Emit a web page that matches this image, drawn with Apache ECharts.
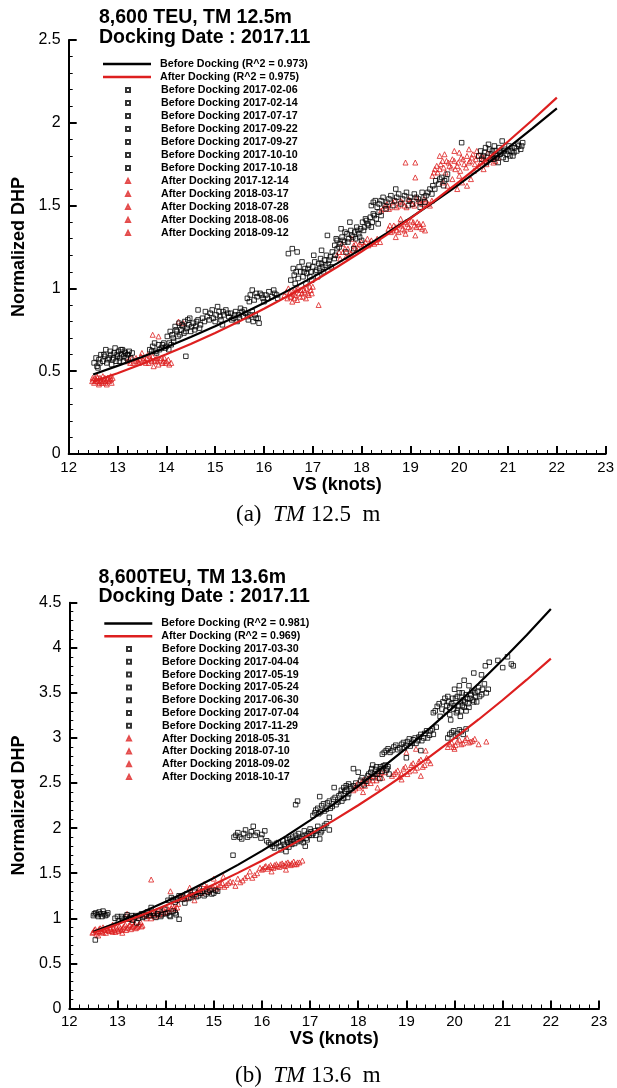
<!DOCTYPE html>
<html><head><meta charset="utf-8">
<script src="https://cdn.jsdelivr.net/npm/echarts@6/dist/echarts.min.js"></script>
<style>html,body{margin:0;padding:0;background:#fff}#c{width:617px;height:1088px}</style>
</head><body><div id="c"></div><script>
// ---------- Chart (a): TM 12.5 m ----------
const titleA = '8,600 TEU, TM 12.5m\nDocking Date : 2017.11';
const lineNamesA = ['Before Docking (R^2 = 0.973)', 'After Docking (R^2 = 0.975)'];
const fitBeforeA = [[12.5,0.48],[13,0.532],[13.5,0.586],[14,0.644],[14.5,0.706],[15,0.771],[15.5,0.84],[16,0.912],[16.5,0.988],[17,1.068],[17.5,1.151],[18,1.239],[18.5,1.33],[19,1.426],[19.5,1.525],[20,1.629],[20.5,1.737],[21,1.849],[21.5,1.966],[22,2.087]];
const fitAfterA = [[12.5,0.437],[13,0.488],[13.5,0.543],[14,0.602],[14.5,0.664],[15,0.731],[15.5,0.802],[16,0.877],[16.5,0.956],[17,1.04],[17.5,1.129],[18,1.222],[18.5,1.32],[19,1.423],[19.5,1.531],[20,1.645],[20.5,1.763],[21,1.887],[21.5,2.017],[22,2.152]];
const beforeDatesA = ['Before Docking 2017-02-06','Before Docking 2017-02-14','Before Docking 2017-07-17','Before Docking 2017-09-22','Before Docking 2017-09-27','Before Docking 2017-10-10','Before Docking 2017-10-18'];
const afterDatesA = ['After Docking 2017-12-14','After Docking 2018-03-17','After Docking 2018-07-28','After Docking 2018-08-06','After Docking 2018-09-12'];
const beforeA1 = [[12.52,0.55],[12.58,0.53],[12.62,0.57],[12.7,0.56],[12.74,0.59],[12.78,0.55],[12.83,0.58],[12.86,0.6],[12.9,0.57],[12.93,0.61],[12.97,0.56],[13.0,0.59],[13.02,0.62],[13.05,0.58],[13.08,0.6],[13.1,0.63],[13.13,0.59],[13.16,0.61],[13.2,0.6],[13.24,0.62],[12.88,0.54],[12.95,0.64],[13.12,0.56],[12.66,0.6],[13.27,0.58],
  [12.56,0.58],[12.64,0.55],[12.72,0.6],[12.8,0.57],[12.85,0.62],[12.92,0.58],[12.99,0.6],[13.04,0.56],[13.07,0.63],[13.14,0.62],[13.18,0.58],[13.22,0.6],[12.6,0.52],[12.76,0.63],[13.3,0.61]];
const beforeA2 = [[13.66,0.63],[13.72,0.65],[13.78,0.62],[13.84,0.66],[13.9,0.64],[13.95,0.67],[14.0,0.65],[14.05,0.63],[14.1,0.66],[14.15,0.68],[13.8,0.61],[14.02,0.71],[14.08,0.74],[14.12,0.72],[14.18,0.77],[14.22,0.74],[14.26,0.79],[14.3,0.75],[14.34,0.77],[14.38,0.8],[14.42,0.76],[14.46,0.78],[14.5,0.74],[14.55,0.79],[14.6,0.77],[14.65,0.81],[14.7,0.78],[14.28,0.72],[14.36,0.73],[14.48,0.82],[14.4,0.59],
  [13.7,0.62],[13.76,0.67],[13.86,0.63],[13.92,0.66],[13.98,0.64],[14.06,0.67],[14.14,0.7],[14.2,0.75],[14.24,0.71],[14.32,0.78],[14.4,0.74],[14.44,0.81],[14.52,0.77],[14.58,0.75],[14.62,0.8],[14.68,0.76],[14.74,0.82]];
const beforeA3 = [[14.65,0.87],[14.78,0.8],[14.84,0.83],[14.9,0.85],[14.96,0.82],[15.02,0.84],[15.08,0.86],[15.12,0.81],[15.18,0.84],[15.22,0.87],[15.28,0.83],[15.32,0.85],[15.38,0.82],[15.42,0.86],[15.48,0.84],[15.52,0.88],[15.58,0.83],[15.62,0.85],[15.68,0.81],[15.72,0.84],[15.78,0.8],[15.84,0.82],[15.9,0.79],[15.05,0.89],[15.45,0.8],[15.15,0.78],[15.55,0.86],
  [14.8,0.86],[14.88,0.81],[14.94,0.87],[15.0,0.8],[15.1,0.83],[15.16,0.86],[15.26,0.85],[15.34,0.81],[15.4,0.84],[15.5,0.82],[15.6,0.87],[15.66,0.83],[15.76,0.86],[15.82,0.84],[15.88,0.82]];
const beforeA4 = [[15.66,0.94],[15.72,0.96],[15.8,0.93],[15.86,0.95],[15.92,0.97],[15.98,0.94],[16.04,0.96],[16.1,0.98],[16.16,0.95],[16.22,0.97],[16.28,0.94],[15.76,0.99],[16.0,0.92],[16.5,1.21],[16.58,1.24],[16.68,1.22],[16.55,1.05],[16.62,1.08],[16.7,1.06],[16.75,1.1],[16.8,1.07],[16.84,1.12],[16.88,1.09],[16.92,1.14],[16.96,1.1],[17.0,1.13],[17.04,1.16],[17.08,1.11],[17.12,1.15],[17.16,1.18],[17.2,1.13],[17.24,1.17],[17.28,1.2],[17.32,1.15],[17.36,1.19],[17.4,1.22],[17.44,1.18],[17.5,1.24],[16.86,1.03],[16.98,1.05],[17.1,1.07],[17.3,1.32],[16.78,1.16],[17.02,1.2],
  [15.7,0.92],[15.84,0.97],[15.96,0.96],[16.08,0.94],[16.2,0.99],[16.26,0.96],[16.6,1.12],[16.66,1.1],[16.72,1.13],[16.82,1.1],[16.9,1.12],[16.94,1.07],[17.06,1.1],[17.14,1.12],[17.18,1.15],[17.22,1.1],[17.26,1.14],[17.34,1.17],[17.38,1.13],[17.46,1.2],[16.64,1.03],[17.18,1.23]];
const beforeA5 = [[17.45,1.26],[17.5,1.29],[17.56,1.27],[17.6,1.31],[17.65,1.28],[17.7,1.33],[17.74,1.3],[17.78,1.35],[17.82,1.31],[17.86,1.34],[17.9,1.37],[17.94,1.33],[17.98,1.36],[18.02,1.4],[18.06,1.37],[18.1,1.41],[18.14,1.38],[18.18,1.43],[18.22,1.4],[18.26,1.44],[18.3,1.42],[18.36,1.46],[17.68,1.22],[17.84,1.24],[17.58,1.36],[18.0,1.29],[17.76,1.4],
  [17.48,1.3],[17.54,1.25],[17.62,1.29],[17.66,1.34],[17.72,1.28],[17.8,1.32],[17.88,1.3],[17.92,1.35],[17.96,1.31],[18.04,1.35],[18.08,1.42],[18.12,1.39],[18.2,1.37],[18.24,1.45],[18.34,1.39],[18.4,1.44]];
const beforeA6 = [[18.2,1.5],[18.28,1.53],[18.36,1.51],[18.44,1.55],[18.52,1.52],[18.6,1.56],[18.68,1.53],[18.76,1.57],[18.84,1.54],[18.92,1.58],[19.0,1.55],[19.08,1.57],[19.16,1.54],[19.24,1.58],[19.32,1.56],[19.4,1.6],[19.46,1.62],[19.52,1.65],[19.58,1.63],[19.64,1.67],[19.7,1.65],[19.76,1.69],[18.7,1.6],[18.5,1.48],[18.96,1.5],[19.2,1.49],[19.3,1.52],
  [18.24,1.52],[18.32,1.49],[18.4,1.53],[18.48,1.5],[18.56,1.54],[18.64,1.5],[18.72,1.55],[18.8,1.51],[18.88,1.56],[18.98,1.53],[19.04,1.51],[19.12,1.55],[19.2,1.52],[19.28,1.55],[19.36,1.58],[19.44,1.57],[19.5,1.6],[19.6,1.66],[19.68,1.62],[19.74,1.66]];
const beforeA7 = [[20.05,1.88],[20.4,1.8],[20.46,1.78],[20.52,1.82],[20.58,1.79],[20.62,1.84],[20.66,1.81],[20.7,1.78],[20.74,1.83],[20.78,1.8],[20.82,1.85],[20.86,1.82],[20.9,1.79],[20.94,1.84],[20.98,1.81],[21.02,1.86],[21.06,1.83],[21.1,1.8],[21.14,1.85],[21.2,1.87],[21.26,1.84],[21.3,1.88],[20.56,1.76],[20.8,1.76],[20.88,1.89],[20.6,1.87],
  [20.44,1.83],[20.5,1.8],[20.54,1.85],[20.64,1.78],[20.68,1.83],[20.72,1.86],[20.76,1.79],[20.84,1.81],[20.92,1.83],[20.96,1.78],[21.0,1.83],[21.04,1.8],[21.08,1.85],[21.12,1.82],[21.18,1.83],[21.22,1.86],[21.28,1.86]];
const afterA1 = [[12.48,0.44],[12.52,0.43],[12.56,0.45],[12.6,0.44],[12.64,0.46],[12.68,0.43],[12.72,0.45],[12.76,0.44],[12.8,0.46],[12.84,0.45],[12.88,0.43],[12.9,0.46],[12.54,0.46],[12.62,0.42],[12.7,0.47],[12.78,0.42],[12.86,0.47],[12.5,0.45],[12.66,0.44],[12.74,0.46],
  [12.49,0.46],[12.55,0.44],[12.59,0.46],[12.63,0.43],[12.67,0.45],[12.71,0.44],[12.75,0.43],[12.79,0.45],[12.83,0.44],[12.87,0.45],[12.58,0.47]];
const afterA2 = [[13.2,0.56],[13.26,0.55],[13.3,0.58],[13.36,0.56],[13.4,0.57],[13.44,0.55],[13.48,0.59],[13.52,0.57],[13.56,0.56],[13.6,0.58],[13.64,0.55],[13.68,0.57],[13.72,0.59],[13.76,0.56],[13.8,0.58],[13.84,0.54],[13.88,0.57],[13.92,0.55],[13.96,0.58],[14.0,0.56],[14.06,0.54],[14.1,0.55],[13.5,0.61],[13.62,0.6],[13.74,0.53],[13.72,0.72],[13.84,0.71],[14.25,0.8],[14.35,0.79],
  [13.24,0.57],[13.32,0.55],[13.38,0.58],[13.42,0.56],[13.46,0.57],[13.54,0.58],[13.58,0.55],[13.66,0.59],[13.7,0.56],[13.78,0.57],[13.82,0.56],[13.9,0.58],[13.94,0.56],[13.98,0.55],[14.04,0.57]];
const afterA3 = [[16.42,0.96],[16.48,0.94],[16.52,0.97],[16.56,0.95],[16.6,0.98],[16.64,0.96],[16.68,0.93],[16.72,0.97],[16.76,0.99],[16.8,0.95],[16.84,0.98],[16.88,1.0],[16.92,0.96],[16.96,0.99],[17.0,1.01],[16.7,1.0],[16.58,0.92],[16.86,0.94],[17.12,0.9],[16.5,1.0],
  [16.46,0.98],[16.54,0.95],[16.62,0.97],[16.66,0.99],[16.74,0.95],[16.78,0.97],[16.82,0.99],[16.9,0.97],[16.94,1.01],[16.98,0.97],[16.62,0.94]];
const afterA4 = [[17.5,1.2],[17.56,1.18],[17.62,1.22],[17.68,1.19],[17.72,1.24],[17.78,1.21],[17.84,1.26],[17.9,1.23],[17.96,1.27],[18.02,1.25],[18.08,1.28],[18.14,1.26],[18.2,1.29],[18.26,1.27],[18.32,1.3],[18.38,1.28],[17.6,1.27],[17.8,1.3],[18.55,1.36],[18.6,1.34],[18.66,1.38],[18.72,1.35],[18.78,1.39],[18.84,1.36],[18.9,1.4],[18.96,1.37],[19.02,1.41],[19.08,1.38],[19.14,1.4],[19.2,1.37],[19.26,1.39],[19.3,1.35],[18.7,1.31],[18.9,1.33],[19.1,1.32],[18.8,1.42],
  [17.54,1.22],[17.66,1.24],[17.74,1.2],[17.82,1.23],[17.88,1.27],[17.94,1.24],[18.0,1.28],[18.06,1.26],[18.12,1.3],[18.18,1.27],[18.3,1.28],[18.58,1.38],[18.64,1.35],[18.7,1.37],[18.76,1.34],[18.82,1.38],[18.88,1.35],[18.94,1.39],[19.0,1.36],[19.06,1.4],[19.12,1.37],[19.18,1.39],[19.24,1.36]];
const afterA5 = [[18.4,1.47],[18.48,1.5],[18.56,1.48],[18.64,1.52],[18.72,1.49],[18.8,1.53],[18.88,1.5],[18.96,1.54],[19.04,1.51],[19.12,1.55],[19.2,1.52],[19.28,1.54],[19.36,1.51],[19.44,1.53],[18.9,1.76],[19.1,1.76],[19.1,1.67],[19.45,1.68],[19.5,1.72],[19.56,1.7],[19.62,1.75],[19.68,1.73],[19.74,1.77],[19.8,1.74],[19.86,1.78],[19.92,1.72],[19.98,1.76],[20.04,1.79],[20.1,1.75],[20.16,1.8],[20.22,1.77],[20.28,1.81],[20.34,1.78],[20.4,1.74],[20.46,1.8],[20.52,1.77],[20.58,1.82],[20.64,1.79],[20.7,1.76],[20.76,1.81],[19.66,1.64],[19.76,1.62],[19.86,1.66],[19.96,1.6],[20.06,1.64],[20.16,1.62],[20.24,1.66],[19.6,1.8],[19.9,1.83],[20.2,1.84],[20.0,1.68],[20.3,1.71],[20.5,1.72],
  [18.44,1.48],[18.52,1.51],[18.6,1.49],[18.68,1.53],[18.76,1.5],[18.84,1.52],[18.92,1.49],[19.0,1.53],[19.08,1.5],[19.16,1.53],[19.24,1.51],[19.32,1.53],[19.4,1.5],[19.48,1.7],[19.54,1.74],[19.6,1.72],[19.66,1.77],[19.72,1.7],[19.78,1.76],[19.84,1.73],[19.9,1.77],[19.96,1.74],[20.02,1.71],[20.08,1.78],[20.14,1.73],[20.2,1.76],[20.26,1.79],[20.32,1.75],[20.38,1.8],[20.44,1.76],[20.5,1.79],[20.56,1.75],[20.62,1.78],[20.68,1.8],[20.74,1.77],[20.8,1.79],[19.7,1.81],[20.0,1.82],[20.36,1.83]];

// ---------- Chart (b): TM 13.6 m ----------
const titleB = '8,600TEU, TM 13.6m\nDocking Date : 2017.11';
const lineNamesB = ['Before Docking (R^2 = 0.981)', 'After Docking (R^2 = 0.969)'];
const fitBeforeB = [[12.5,0.85],[13,0.953],[13.5,1.064],[14,1.183],[14.5,1.311],[15,1.447],[15.5,1.593],[16,1.748],[16.5,1.912],[17,2.086],[17.5,2.27],[18,2.465],[18.5,2.671],[19,2.887],[19.5,3.114],[20,3.353],[20.5,3.604],[21,3.867],[21.5,4.142],[22,4.429]];
const fitAfterB = [[12.5,0.84],[13,0.934],[13.5,1.035],[14,1.142],[14.5,1.255],[15,1.376],[15.5,1.504],[16,1.639],[16.5,1.781],[17,1.931],[17.5,2.089],[18,2.254],[18.5,2.428],[19,2.609],[19.5,2.799],[20,2.998],[20.5,3.205],[21,3.421],[21.5,3.646],[22,3.88]];
const beforeDatesB = ['Before Docking 2017-03-30','Before Docking 2017-04-04','Before Docking 2017-05-19','Before Docking 2017-05-24','Before Docking 2017-06-30','Before Docking 2017-07-04','Before Docking 2017-11-29'];
const afterDatesB = ['After Docking 2018-05-31','After Docking 2018-07-10','After Docking 2018-09-02','After Docking 2018-10-17'];
const beforeB1 = [[12.5,1.03],[12.55,1.06],[12.6,1.02],[12.65,1.05],[12.7,1.08],[12.75,1.03],[12.8,1.06],[12.54,0.76],[12.95,1.0],[13.02,0.97],[13.08,1.02],[13.14,0.99],[13.2,1.04],[13.26,1.01],[13.32,0.98],[13.38,1.03],[13.44,1.0],[13.5,1.05],[13.56,1.02],[13.62,1.07],[13.68,1.03],[13.74,1.06],[13.8,1.01],[13.86,1.08],[13.92,1.04],[13.98,1.1],[14.04,1.06],[14.1,1.02],[14.16,1.08],[14.22,1.04],[14.28,0.99],[13.4,0.95],[13.7,1.12],
  [12.52,1.05],[12.58,1.04],[12.62,1.07],[12.68,1.02],[12.72,1.05],[12.78,1.04],[13.0,1.02],[13.1,1.0],[13.18,1.02],[13.24,0.99],[13.3,1.03],[13.36,1.01],[13.46,1.03],[13.52,1.01],[13.6,1.04],[13.66,1.06],[13.76,1.03],[13.84,1.05],[13.9,1.02],[14.0,1.05],[14.08,1.03],[14.2,1.06]];
const beforeB2 = [[14.05,1.2],[14.12,1.23],[14.2,1.18],[14.28,1.25],[14.36,1.21],[14.44,1.27],[14.52,1.23],[14.6,1.29],[14.68,1.25],[14.76,1.3],[14.84,1.27],[14.92,1.31],[15.0,1.28],[15.08,1.3],[14.4,1.17],[14.7,1.33],
  [14.16,1.21],[14.24,1.2],[14.32,1.24],[14.48,1.22],[14.56,1.26],[14.64,1.24],[14.72,1.28],[14.8,1.25],[14.88,1.29],[14.96,1.27],[15.04,1.31]];
const beforeB3 = [[15.4,1.7],[15.42,1.9],[15.5,1.95],[15.58,1.88],[15.66,1.98],[15.74,1.92],[15.82,2.02],[15.9,1.95],[15.98,1.89],[16.06,1.97],[16.1,1.86],[16.18,1.82],[16.26,1.78],[16.34,1.84],[16.4,1.76],[16.46,1.82],[16.52,1.87],[16.56,1.79],[16.6,1.85],[16.64,1.9],[16.68,1.83],[16.72,1.88],[16.76,1.94],[16.8,1.86],[16.84,1.91],[16.88,1.97],[16.92,1.89],[16.96,1.94],[17.0,1.99],[17.04,1.92],[17.1,1.97],[17.16,2.02],[17.22,1.95],[17.28,2.0],[17.34,2.05],[17.4,1.98],[16.7,2.26],[16.74,2.3],[16.5,1.74],[16.9,1.8],[17.2,1.88],
  [15.46,1.92],[15.54,1.9],[15.62,1.94],[15.7,1.9],[15.78,1.96],[15.86,1.92],[16.0,1.93],[16.14,1.84],[16.22,1.8],[16.3,1.83],[16.38,1.8],[16.44,1.86],[16.5,1.8],[16.54,1.84],[16.58,1.88],[16.62,1.82],[16.66,1.86],[16.7,1.92],[16.74,1.85],[16.78,1.9],[16.82,1.88],[16.86,1.84],[16.9,1.92],[16.94,1.87],[16.98,1.92],[17.02,1.96],[17.06,1.94],[17.12,1.92],[17.18,1.98],[17.24,1.97],[17.3,2.03]];
const beforeB4 = [[17.06,2.14],[17.12,2.2],[17.18,2.16],[17.24,2.25],[17.3,2.19],[17.36,2.28],[17.42,2.22],[17.48,2.32],[17.54,2.26],[17.6,2.36],[17.66,2.3],[17.72,2.41],[17.78,2.34],[17.83,2.46],[17.5,2.45],[17.2,2.35],[17.4,2.12],
  [17.1,2.17],[17.16,2.22],[17.22,2.18],[17.28,2.27],[17.34,2.21],[17.4,2.3],[17.46,2.24],[17.52,2.34],[17.58,2.29],[17.64,2.38],[17.7,2.33],[17.76,2.43],[17.8,2.38]];
const beforeB5 = [[17.65,2.42],[17.75,2.47],[17.85,2.44],[17.95,2.5],[18.05,2.53],[18.12,2.48],[18.2,2.58],[18.26,2.62],[18.3,2.56],[18.36,2.65],[18.4,2.6],[18.46,2.68],[18.5,2.63],[18.56,2.7],[18.6,2.66],[18.64,2.6],[18.3,2.7],[18.0,2.62],[17.9,2.66],[18.45,2.55],
  [17.7,2.45],[17.8,2.49],[17.9,2.47],[18.08,2.56],[18.16,2.52],[18.22,2.6],[18.28,2.66],[18.34,2.6],[18.38,2.68],[18.42,2.63],[18.48,2.66],[18.52,2.69],[18.58,2.64],[18.62,2.68]];
const beforeB6 = [[18.5,2.82],[18.58,2.86],[18.66,2.84],[18.74,2.9],[18.82,2.87],[18.9,2.93],[18.96,2.89],[19.02,2.96],[19.08,2.91],[19.14,2.98],[19.2,2.94],[19.26,3.01],[19.32,2.97],[19.38,3.05],[19.44,3.0],[19.5,3.08],[19.56,3.04],[19.62,3.12],[19.0,2.78],[19.3,2.86],[19.86,3.0],[19.94,3.06],[20.02,3.02],[20.1,3.09],[20.18,3.04],[20.24,3.1],
  [18.54,2.84],[18.62,2.88],[18.7,2.86],[18.78,2.92],[18.86,2.89],[18.94,2.95],[19.0,2.92],[19.06,2.99],[19.12,2.94],[19.18,3.0],[19.24,2.97],[19.3,3.04],[19.36,3.0],[19.42,3.08],[19.48,3.03],[19.54,3.1],[19.9,3.04],[19.98,3.08],[20.06,3.05],[20.14,3.07]];
const beforeB7 = [[19.56,3.28],[19.64,3.35],[19.7,3.24],[19.76,3.4],[19.82,3.3],[19.86,3.46],[19.9,3.26],[19.94,3.38],[19.98,3.32],[20.02,3.44],[20.04,3.28],[20.08,3.36],[20.1,3.5],[20.14,3.3],[20.18,3.42],[20.2,3.34],[20.24,3.48],[20.28,3.38],[20.32,3.44],[20.36,3.52],[20.4,3.4],[20.44,3.46],[20.5,3.56],[20.56,3.48],[20.62,3.6],[20.7,3.54],[20.2,3.64],[20.3,3.58],[19.92,3.2],[20.12,3.24],[20.64,3.8],[20.72,3.84],[20.9,3.86],[21.0,3.78],[21.1,3.9],[21.18,3.82],[21.22,3.8],[20.4,3.72],[20.56,3.7],
  [19.6,3.3],[19.68,3.38],[19.74,3.32],[19.8,3.44],[19.84,3.36],[19.88,3.4],[19.96,3.44],[20.0,3.36],[20.06,3.3],[20.06,3.46],[20.12,3.4],[20.16,3.36],[20.16,3.5],[20.22,3.4],[20.26,3.44],[20.3,3.34],[20.34,3.48],[20.38,3.42],[20.42,3.5],[20.46,3.4],[20.48,3.52],[20.52,3.46],[20.58,3.54],[20.66,3.5],[20.0,3.54],[20.1,3.58],[20.24,3.3],[19.9,3.34]];
const afterB1 = [[12.48,0.84],[12.52,0.87],[12.56,0.83],[12.6,0.86],[12.64,0.89],[12.68,0.85],[12.72,0.88],[12.76,0.84],[12.8,0.87],[12.84,0.9],[12.88,0.86],[12.92,0.89],[12.96,0.85],[13.0,0.88],[13.04,0.91],[13.08,0.87],[13.12,0.9],[13.16,0.93],[13.2,0.89],[13.24,0.92],[13.28,0.88],[13.32,0.91],[13.36,0.94],[13.4,0.9],[13.44,0.93],[13.48,0.96],[13.52,0.92],[12.6,0.81],[12.9,0.93],[13.3,0.96],[12.7,0.9],[13.1,0.84],
  [12.5,0.85],[12.54,0.88],[12.58,0.85],[12.62,0.88],[12.66,0.86],[12.7,0.84],[12.74,0.87],[12.78,0.89],[12.82,0.86],[12.86,0.88],[12.9,0.85],[12.94,0.87],[12.98,0.9],[13.02,0.86],[13.06,0.89],[13.1,0.88],[13.14,0.91],[13.18,0.87],[13.22,0.9],[13.26,0.93],[13.3,0.9],[13.34,0.92],[13.38,0.89],[13.42,0.91],[13.46,0.94],[13.5,0.91]];
const afterB2 = [[13.6,1.0],[13.66,1.03],[13.72,1.06],[13.78,1.02],[13.84,1.05],[13.9,1.09],[13.96,1.06],[14.02,1.12],[14.08,1.08],[14.14,1.14],[14.2,1.1],[14.26,1.16],[13.3,0.99],[13.4,1.02],[13.5,1.04],[13.2,1.05],[14.3,1.22],[14.38,1.26],[14.46,1.24],[14.54,1.29],[14.62,1.27],[14.7,1.32],[14.78,1.3],[14.86,1.35],[14.94,1.33],[15.02,1.37],[15.1,1.35],[15.18,1.39],[15.26,1.37],[15.34,1.41],[14.5,1.34],[14.8,1.38],[15.0,1.44],[14.1,1.3],[14.6,1.2],[15.2,1.46],[13.7,1.43],
  [13.62,1.03],[13.7,1.0],[13.76,1.05],[13.82,1.08],[13.88,1.04],[13.94,1.1],[14.0,1.07],[14.06,1.1],[14.12,1.11],[14.18,1.13],[14.24,1.12],[14.34,1.24],[14.42,1.22],[14.5,1.27],[14.58,1.25],[14.66,1.3],[14.74,1.28],[14.82,1.33],[14.9,1.3],[14.98,1.35],[15.06,1.33],[15.14,1.37],[15.22,1.35],[15.3,1.39]];
const afterB3 = [[15.4,1.4],[15.5,1.44],[15.6,1.42],[15.7,1.47],[15.8,1.45],[15.9,1.5],[16.0,1.54],[16.06,1.57],[16.12,1.55],[16.18,1.59],[16.24,1.56],[16.3,1.6],[16.36,1.57],[16.42,1.61],[16.48,1.58],[16.54,1.62],[16.6,1.59],[16.66,1.63],[16.72,1.6],[16.78,1.62],[16.2,1.52],[16.5,1.54],[16.84,1.64],[15.45,1.36],[15.75,1.52],
  [15.96,1.56],[16.02,1.55],[16.08,1.58],[16.14,1.57],[16.2,1.57],[16.26,1.59],[16.32,1.58],[16.38,1.6],[16.44,1.59],[16.5,1.61],[16.56,1.6],[16.62,1.61],[16.68,1.6],[16.74,1.62],[15.55,1.4],[15.65,1.45],[15.85,1.48]];
const afterB4 = [[17.9,2.42],[17.96,2.48],[18.02,2.45],[18.08,2.52],[18.14,2.47],[18.2,2.55],[18.26,2.5],[18.32,2.58],[18.38,2.53],[18.44,2.6],[18.5,2.56],[18.56,2.62],[18.1,2.4],[18.4,2.45],[18.7,2.58],[18.78,2.62],[18.86,2.57],[18.94,2.66],[19.02,2.6],[19.1,2.7],[19.18,2.64],[19.26,2.74],[19.34,2.68],[19.42,2.78],[19.5,2.72],[19.0,2.84],[19.2,2.88],[19.4,2.86],[18.9,2.54],[19.3,2.58],[19.86,2.9],[19.94,2.95],[20.02,2.92],[20.1,2.98],[20.18,2.94],[20.26,3.0],[20.34,2.96],[20.42,2.99],[20.5,2.93],[20.66,2.96],[20.0,2.88],
  [17.94,2.44],[18.0,2.5],[18.06,2.47],[18.12,2.54],[18.18,2.5],[18.24,2.57],[18.3,2.53],[18.36,2.6],[18.42,2.56],[18.48,2.62],[18.74,2.6],[18.82,2.64],[18.9,2.6],[18.98,2.68],[19.06,2.63],[19.14,2.72],[19.22,2.67],[19.3,2.76],[19.38,2.7],[19.46,2.75],[19.9,2.93],[19.98,2.9],[20.06,2.96],[20.14,2.93],[20.22,2.98],[20.3,2.95],[20.38,2.97]];

const beforeSetsA = [beforeA1,beforeA2,beforeA3,beforeA4,beforeA5,beforeA6,beforeA7];
const afterSetsA = [afterA1,afterA2,afterA3,afterA4,afterA5];
const beforeSetsB = [beforeB1,beforeB2,beforeB3,beforeB4,beforeB5,beforeB6,beforeB7];
const afterSetsB = [afterB1,afterB2,afterB3,afterB4];

const RED = '#dd1f1f';
const FONT = 'Liberation Sans, Arial, sans-serif';
const SERIF = 'Liberation Serif, Times New Roman, serif';

function xAxisCfg(gi){
  return {
    gridIndex: gi, type:'value', min:12, max:23, interval:1,
    axisLine:{show:true, onZero:false, lineStyle:{color:'#000', width:2}},
    axisTick:{show:true, inside:true, length:8, lineStyle:{color:'#000', width:2}},
    minorTick:{show:true, splitNumber:5, length:4, lineStyle:{color:'#000', width:1}},
    splitLine:{show:false},
    axisLabel:{color:'#000', fontSize:15, margin:6, fontFamily:FONT},
    name:'VS (knots)', nameLocation:'middle', nameGap:21,
    nameTextStyle:{color:'#000', fontSize:18, fontWeight:'bold', fontFamily:FONT}
  };
}
function yAxisCfg(gi, max){
  return {
    gridIndex: gi, type:'value', min:0, max:max, interval:0.5,
    axisLine:{show:true, onZero:false, lineStyle:{color:'#000', width:2}},
    axisTick:{show:true, inside:true, length:8, lineStyle:{color:'#000', width:2}},
    minorTick:{show:true, splitNumber:5, length:4, lineStyle:{color:'#000', width:1}},
    splitLine:{show:false},
    axisLabel:{color:'#000', fontSize:16, margin:8, fontFamily:FONT},
    name:'Normalized DHP', nameLocation:'middle', nameRotate:90, nameGap:38,
    nameTextStyle:{color:'#000', fontSize:18, fontWeight:'bold', fontFamily:FONT}
  };
}
function buildSeries(gi, lineNames, fitB, fitA, bNames, bSets, aNames, aSets){
  const s = [];
  aNames.forEach((n,i)=>s.push({type:'scatter', name:n, xAxisIndex:gi, yAxisIndex:gi, data:aSets[i],
    symbol:'triangle', symbolSize:5, z:2,
    itemStyle:{color:'rgba(255,255,255,0)', borderColor:RED, borderWidth:1}}));
  bNames.forEach((n,i)=>s.push({type:'scatter', name:n, xAxisIndex:gi, yAxisIndex:gi, data:bSets[i],
    symbol:'rect', symbolSize:4.5, z:3,
    itemStyle:{color:'rgba(255,255,255,0)', borderColor:'#000', borderWidth:1}}));
  s.push({type:'line', name:lineNames[0], xAxisIndex:gi, yAxisIndex:gi, data:fitB, symbol:'none', showSymbol:false, z:5,
    lineStyle:{color:'#000', width:2.2}, itemStyle:{color:'#000'}});
  s.push({type:'line', name:lineNames[1], xAxisIndex:gi, yAxisIndex:gi, data:fitA, symbol:'none', showSymbol:false, z:5,
    lineStyle:{color:RED, width:2.2}, itemStyle:{color:RED}});
  return s;
}
function lineLegend(left, top, names, lh){
  return {orient:'vertical', left:left, top:top, padding:0, itemWidth:48, itemHeight:2.5, itemGap:0,
    selectedMode:false, data:names.map(n=>({name:n, icon:'rect'})),
    textStyle:{color:'#000', fontSize:10.7, fontWeight:'bold', fontFamily:FONT, lineHeight:lh, padding:[0,0,0,4]}};
}
function markLegend(left, top, names, lh){
  return {orient:'vertical', left:left, top:top, padding:0, itemWidth:4, itemHeight:4, itemGap:0,
    selectedMode:false, data:names,
    textStyle:{color:'#000', fontSize:10.7, fontWeight:'bold', fontFamily:FONT, lineHeight:lh, padding:[0,0,0,26]}};
}
const chart = echarts.init(document.getElementById('c'), null, {renderer:'canvas'});
chart.setOption({
  backgroundColor:'#fff',
  animation:false,
  title:[
    {text:titleA, left:99, top:8, padding:0, textStyle:{color:'#000', fontSize:19.5, fontWeight:'bold', lineHeight:20, fontFamily:FONT}},
    {text:titleB, left:98.5, top:568, padding:0, textStyle:{color:'#000', fontSize:19.5, fontWeight:'bold', lineHeight:19, fontFamily:FONT}},
    {text:'(a)  {i|TM} 12.5  m', left:236, top:503, padding:0, textStyle:{color:'#000', fontSize:23, fontWeight:'normal', fontFamily:SERIF,
      rich:{i:{fontStyle:'italic', fontSize:23, fontFamily:SERIF, color:'#000'}}}},
    {text:'(b)  {i|TM} 13.6  m', left:235, top:1064, padding:0, textStyle:{color:'#000', fontSize:23, fontWeight:'normal', fontFamily:SERIF,
      rich:{i:{fontStyle:'italic', fontSize:23, fontFamily:SERIF, color:'#000'}}}}
  ],
  legend:[
    lineLegend(103, 57.5, lineNamesA, 13),
    markLegend(125, 83.5, beforeDatesA.concat(afterDatesA), 13),
    lineLegend(104.3, 617, lineNamesB, 12.8),
    markLegend(126, 642.6, beforeDatesB.concat(afterDatesB), 12.8)
  ],
  grid:[
    {left:68.7, top:40, width:538.6, height:414},
    {left:69.3, top:602.7, width:529.7, height:405.8}
  ],
  xAxis:[xAxisCfg(0), xAxisCfg(1)],
  yAxis:[yAxisCfg(0, 2.5), yAxisCfg(1, 4.5)],
  series: buildSeries(0, lineNamesA, fitBeforeA, fitAfterA, beforeDatesA, beforeSetsA, afterDatesA, afterSetsA)
    .concat(buildSeries(1, lineNamesB, fitBeforeB, fitAfterB, beforeDatesB, beforeSetsB, afterDatesB, afterSetsB))
});
</script></body></html>
